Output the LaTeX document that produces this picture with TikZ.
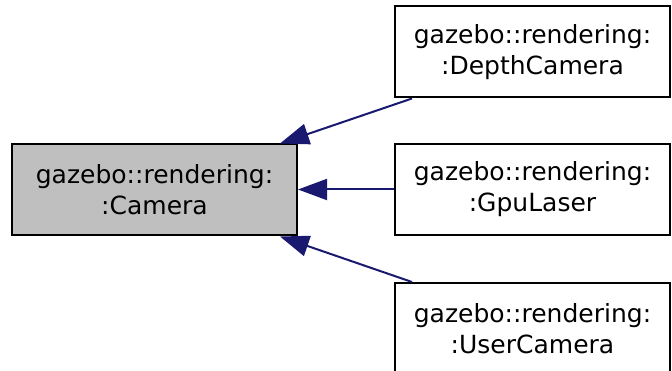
\documentclass[tikz,border=0pt]{standalone}
\usepackage{fontspec}
\setmainfont{DejaVu Sans}
\usetikzlibrary{arrows.meta}
\definecolor{edgeblue}{HTML}{191970}
\definecolor{basegray}{HTML}{BFBFBF}
\tikzset{
  cls/.style={draw=black, line width=2pt, fill=white, minimum width=275pt, minimum height=91pt,
    inner sep=0pt, align=center, font=\fontsize{25}{31}\selectfont},
  base/.style={cls, fill=basegray, minimum width=285pt},
  inh/.style={draw=edgeblue, line width=2pt, {Triangle[length=29pt,width=21pt]}-}
}
\begin{document}
\begin{tikzpicture}[x=1pt,y=-1pt]
\clip (0,0) rectangle (672,371);
\useasboundingbox (0,0) rectangle (672,371);
\node[base] (cam) at (154.5,190) {gazebo::rendering:\\:Camera};
\node[cls] (dep) at (532.5,52) {gazebo::rendering:\\:DepthCamera};
\node[cls] (gpu) at (532.5,189.5) {gazebo::rendering:\\:GpuLaser};
\node[cls] (usr) at (532.5,328.5) {gazebo::rendering:\\:UserCamera};
\coordinate (camT) at ([xshift=-18pt]cam.north east);
\coordinate (camB) at ([xshift=-18pt]cam.south east);
\coordinate (depB) at ([xshift=18pt]dep.south west);
\coordinate (usrT) at ([xshift=18pt]usr.north west);
\draw[inh] (camT) -- (depB);
\draw[inh] (cam.east |- gpu.west) -- (gpu.west);
\draw[inh] (camB) -- (usrT);
\end{tikzpicture}
\end{document}
